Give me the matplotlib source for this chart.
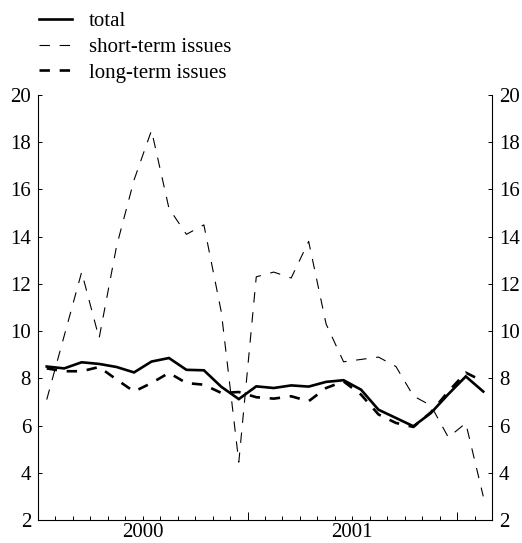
import matplotlib
matplotlib.use("Agg")
import matplotlib.pyplot as plt
from matplotlib.ticker import FixedLocator, FuncFormatter, NullFormatter
import numpy as np

plt.rcParams['font.family'] = ['Liberation Serif', 'DejaVu Serif']
plt.rcParams['lines.scale_dashes'] = False

# monthly observations Jan 2000 .. Feb 2002
months = np.arange(26) + 0.5
total = [8.50, 8.42, 8.68, 8.61, 8.48, 8.25, 8.71, 8.86, 8.36, 8.34, 7.64, 7.12, 7.66,
         7.59, 7.70, 7.65, 7.85, 7.92, 7.52, 6.67, 6.32, 5.97, 6.53, 7.33, 8.08, 7.44]
short_term = [7.1, 9.8, 12.5, 9.7, 13.6, 16.4, 18.5, 15.2, 14.1, 14.5, 10.8, 4.45, 12.3,
              12.5, 12.25, 13.8, 10.3, 8.7, 8.8, 8.9, 8.5, 7.25, 6.85, 5.5, 6.1, 3.0]
long_term = [8.42, 8.30, 8.30, 8.48, 7.95, 7.44, 7.80, 8.23, 7.80, 7.73, 7.38, 7.42, 7.20,
             7.14, 7.24, 7.03, 7.59, 7.87, 7.31, 6.47, 6.11, 5.94, 6.56, 7.44, 8.24, 7.87]
series_labels = ['total', 'short-term issues', 'long-term issues']
year_labels = {6: '2000', 18: '2001'}
yticks = [2, 4, 6, 8, 10, 12, 14, 16, 18, 20]

FS = 15

fig = plt.figure(figsize=(5.22, 5.43), dpi=100)
ax = fig.add_axes([0.0728, 0.0424, 0.8697, 0.7826])

l1, = ax.plot(months, total, color='black', lw=1.9, solid_joinstyle='miter')
l2, = ax.plot(months, short_term, color='black', lw=0.8, dashes=(7.5, 7))
l3, = ax.plot(months, long_term, color='black', lw=1.9, dashes=(7.5, 7))

ax.set_xlim(0, 26)
ax.set_ylim(2, 20)
ax.spines['top'].set_visible(False)
for s in ['left', 'right', 'bottom']:
    ax.spines[s].set_linewidth(0.8)

ax.set_yticks(yticks)
ax.set_yticklabels([str(v) for v in yticks])
ax.tick_params(axis='y', which='both', direction='in', left=True, right=True,
               labelleft=True, labelright=True, length=3, width=0.7, labelsize=FS, pad=5)

ax.xaxis.set_major_locator(FixedLocator([0, 12, 24]))
ax.xaxis.set_major_formatter(NullFormatter())
ax.xaxis.set_minor_locator(FixedLocator(list(range(0, 27))))
ax.xaxis.set_minor_formatter(FuncFormatter(lambda v, p: year_labels.get(int(round(v)), '')))
ax.tick_params(axis='x', which='major', direction='in', length=6, width=0.7)
ax.tick_params(axis='x', which='minor', direction='in', length=3, width=0.7,
               labelsize=FS, pad=2.5)

fig.legend([l1, l2, l3], series_labels, loc='upper left', bbox_to_anchor=(0.053, 1.0),
           frameon=False, fontsize=FS, handlelength=1.6, handletextpad=0.8,
           labelspacing=0.3, borderaxespad=0.15)

fig.savefig('out.png', dpi=100)
